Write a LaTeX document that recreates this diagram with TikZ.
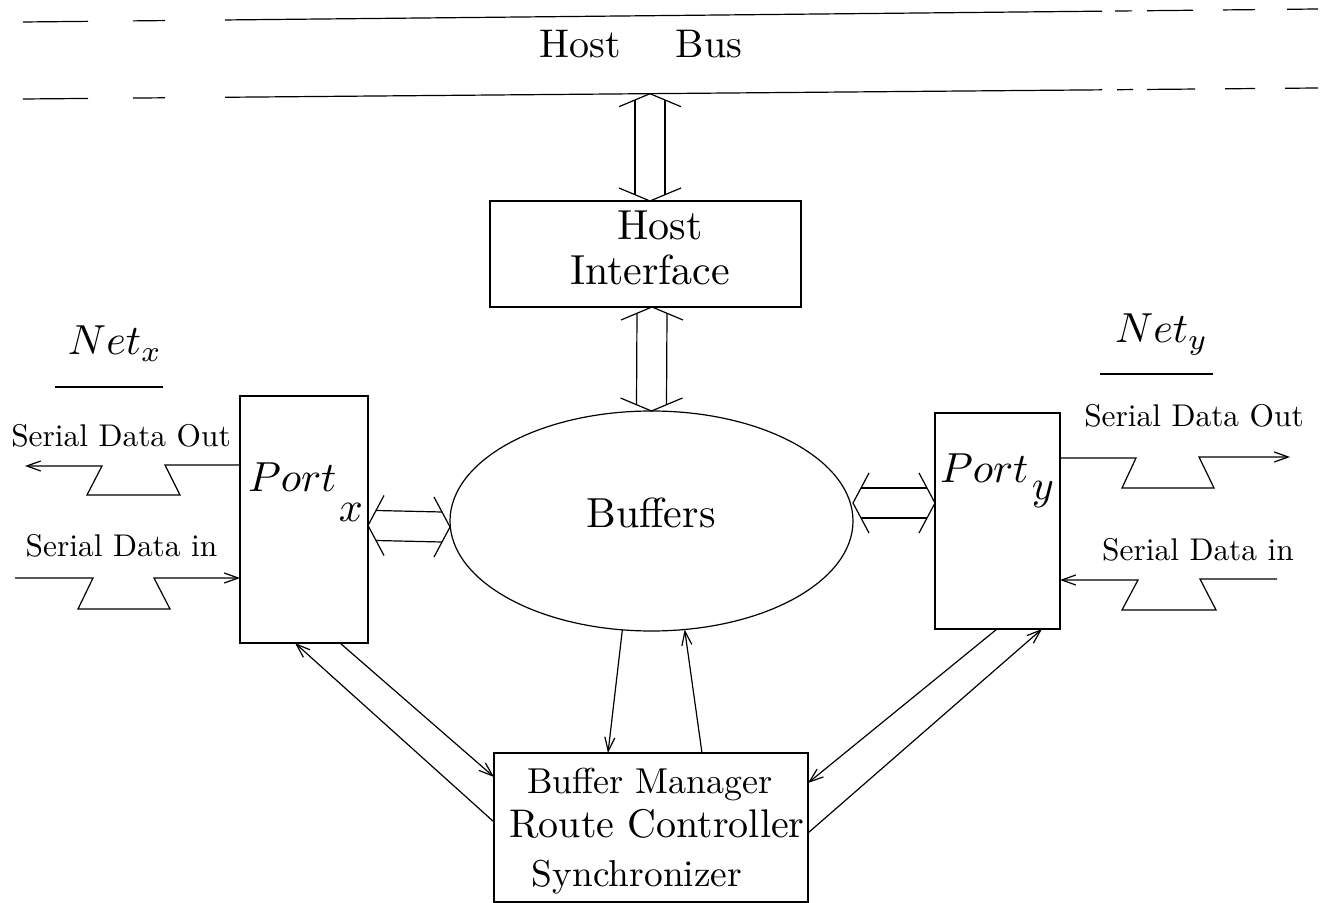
\documentclass[tikz,border=0pt]{standalone}
\usepackage{graphicx}
\usetikzlibrary{arrows.meta,shapes.geometric}
\newcommand{\vdbl}[2]{%
  \draw (#1) ++(-31,13) -- (#1) -- ++(31,13);
  \draw (#2) ++(-31,-13) -- (#2) -- ++(31,-13);
  \draw ([shift={(-15,6)}]#1) -- ([shift={(-15,-6)}]#2);
  \draw ([shift={(15,6)}]#1) -- ([shift={(15,-6)}]#2);
}
\newcommand{\hdbl}[2]{%
  \draw (#1) ++(16,-30) -- (#1) -- ++(16,30);
  \draw (#2) ++(-16,-30) -- (#2) -- ++(-16,30);
  \draw ([shift={(8,-15)}]#1) -- ([shift={(-8,-15)}]#2);
  \draw ([shift={(8,15)}]#1) -- ([shift={(-8,15)}]#2);
}
\begin{document}
\begin{tikzpicture}[x=0.5pt,y=-0.5pt,line width=0.6pt,
  box/.style={draw,rectangle,inner sep=0pt,outer sep=0pt},
  txt/.style={inner sep=0pt,outer sep=0pt,anchor=base},
  arr/.style={-{Straight Barb[length=7pt,width=5pt]}}]
\useasboundingbox (0,0) rectangle (1323,903);

% host bus lines (slightly tilted, dashed at both ends)
\draw (23,22) -- (88,21.35);
\draw (133,20.9) -- (165,20.57);
\draw (225,19.97) -- (1102,11.17);
\draw (1115,11.04) -- (1132,10.87);
\draw (1147,10.72) -- (1193,10.26);
\draw (1223,9.95) -- (1255,9.63);
\draw (1287,9.31) -- (1318,9.0);
\draw (23,99) -- (88,98.45);
\draw (133,98.07) -- (165,97.79);
\draw (225,97.28) -- (1102,89.83);
\draw (1117,89.71) -- (1133,89.57);
\draw (1147,89.45) -- (1195,89.04);
\draw (1225,88.79) -- (1255,88.54);
\draw (1285,88.28) -- (1318,88.0);
\node[txt] (hb) at (641,58) {\scalebox{2}{Host\hspace{1.36em}Bus}};
\coordinate (busA) at (650,93.7);

% boxes
\node[box,minimum width=155.5pt,minimum height=53pt] (hi) at (645.5,254) {};
\node[draw,ellipse,inner sep=0pt,outer sep=0pt,minimum width=201.5pt,minimum height=110pt] (buf) at (651.5,521) {};
\node[box,minimum width=64pt,minimum height=123.5pt] (px) at (304,519.5) {};
\node[box,minimum width=62.5pt,minimum height=108pt] (py) at (997.5,521) {};
\node[box,minimum width=157pt,minimum height=74.5pt] (bm) at (651,827.5) {};

% texts
\node[txt] (hit1) at (660,240) {\scalebox{2.1}{Host}};
\node[txt] (hit2) at (650,285) {\scalebox{2.1}{Interface}};
\node[txt] (buft) at (651,528) {\scalebox{2.1}{Buffers}};
\node[txt,anchor=base west] (pxt) at (248,492) {\scalebox{2.1}{$Port$\hspace{0.6pt}\raisebox{-7.1pt}{$x$}}};
\node[txt,anchor=base west] (pyt) at (940,483) {\scalebox{2.1}{$Port$\hspace{0.8pt}\raisebox{-4pt}{$y$}}};
\node[txt,anchor=base west] (netx) at (68,355) {\scalebox{2.1}{$Net_x$}};
\node[txt,anchor=base west] (nety) at (1115,343) {\scalebox{2.1}{$Net_y$}};
\draw (55,387) -- (163,387);
\draw (1100,374) -- (1213,374);
\node[txt] (lso) at (121,447) {\scalebox{1.57}{Serial Data Out}};
\node[txt] (lsi) at (121.5,557) {\scalebox{1.57}{Serial Data in}};
\node[txt] (rso) at (1194,427) {\scalebox{1.57}{Serial Data Out}};
\node[txt] (rsi) at (1198,560) {\scalebox{1.57}{Serial Data in}};
\node[txt] (bm1) at (650,793) {\scalebox{1.8}{Buffer Manager}};
\node[txt] (bm2) at (657,837) {\scalebox{2.0}{Route Controller}};
\node[txt] (bm3) at (637,886) {\scalebox{1.87}{Synchronizer}};

% wide double arrows
\coordinate (hiN) at (650,0 |- hi.north);
\coordinate (hiS) at (652,0 |- hi.south);
\vdbl{busA}{hiN}
\vdbl{hiS}{buf.north}
\coordinate (lxa) at ([yshift=-3pt]px.east);
\coordinate (lxb) at ([yshift=-3pt]buf.west);
\hdbl{lxa}{lxb}
\coordinate (rya) at ([yshift=9pt]buf.east);
\coordinate (ryb) at ([yshift=9pt]py.west);
\hdbl{rya}{ryb}

% serial lines
\coordinate (lsoEnd) at (25,466);
\coordinate (lsiStart) at (15,578);
\coordinate (rsoEnd) at (1290,457);
\coordinate (rsiStart) at (1277,579);
\draw[arr] (px.west |- 0,465) -- (165,465) -- (180,495) -- (87,495) -- (102,466) -- (lsoEnd);
\draw[arr] (lsiStart) -- (93,578) -- (78,609) -- (170,609) -- (154,578) -- (px.west |- 0,578);
\draw[arr] (py.east |- 0,458) -- (1136,458) -- (1122,488) -- (1214,488) -- (1199,457) -- (rsoEnd);
\draw[arr] (rsiStart) -- (1200,579) -- (1216,610) -- (1122,610) -- (1138,580) -- (py.east |- 0,580);

% control arrows
\draw[arr] (340,0 |- px.south) -- (bm.west |- 0,777);
\draw[arr] (bm.west |- 0,822) -- (295,0 |- px.south);
\draw[arr] (997,0 |- py.south) -- (bm.east |- 0,783);
\draw[arr] (bm.east |- 0,833) -- (1042,0 |- py.south);
\draw[arr] (buf.255) -- (608,0 |- bm.north);
\draw[arr] (702,0 |- bm.north) -- (buf.287);
\end{tikzpicture}
\end{document}
